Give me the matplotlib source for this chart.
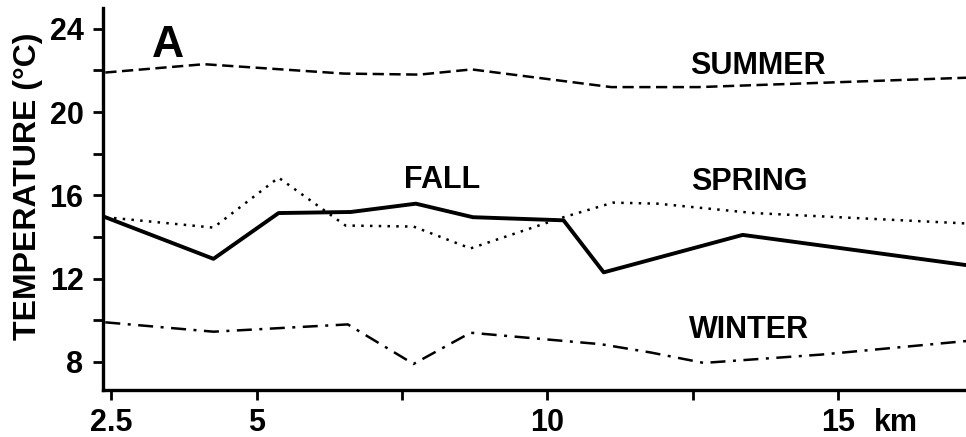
import matplotlib.pyplot as plt
from matplotlib.ticker import MultipleLocator

# temperature along the transect (km from origin, deg C)
summer_km = [2.4, 4.1, 6.5, 7.8, 8.7, 11.1, 12.6, 17.2]
summer_t = [21.9, 22.3, 21.85, 21.8, 22.05, 21.2, 21.2, 21.65]

spring_km = [2.4, 4.26, 5.38, 6.53, 7.7, 8.68, 10.28, 11.13, 11.9, 13.55, 17.2]
spring_t = [14.95, 14.45, 16.85, 14.55, 14.5, 13.45, 14.95, 15.65, 15.6, 15.15, 14.65]

fall_km = [2.4, 4.26, 5.38, 6.62, 7.74, 8.72, 10.28, 10.97, 13.36, 17.2]
fall_t = [14.95, 12.95, 15.15, 15.2, 15.6, 14.95, 14.8, 12.3, 14.1, 12.65]

winter_km = [2.4, 4.26, 6.57, 7.7, 8.68, 10.92, 11.78, 12.69, 14.71, 17.2]
winter_t = [9.9, 9.45, 9.8, 7.9, 9.4, 8.85, 8.45, 7.95, 8.35, 9.0]

x_ticks = [2.5, 5, 7.5, 10, 12.5, 15]
x_ticklabels = ["2.5", "5", "", "10", "", "15"]

plt.rcParams["font.family"] = ["Liberation Sans", "DejaVu Sans"]
plt.rcParams["font.weight"] = "bold"

fig = plt.figure(figsize=(9.66, 4.37), dpi=100)
ax = fig.add_axes([0.1066, 0.1076, 0.8934, 0.8741])

ax.plot(summer_km, summer_t, color="black", lw=1.8, dashes=(4.5, 2.2))
ax.plot(spring_km, spring_t, color="black", lw=1.8, dashes=(1, 2.5))
ax.plot(fall_km, fall_t, color="black", lw=2.8)
ax.plot(winter_km, winter_t, color="black", lw=1.8, dashes=(6, 3, 1.2, 3))

ax.set_xlim(2.36, 17.2)
ax.set_ylim(6.65, 25)

ax.set_xticks(x_ticks)
ax.set_xticklabels(x_ticklabels, fontsize=22, fontweight="bold")
ax.set_yticks([8, 12, 16, 20, 24])
ax.yaxis.set_minor_locator(MultipleLocator(2))
ax.tick_params(axis="y", labelsize=22, width=2, length=7, pad=7)
ax.tick_params(axis="y", which="minor", width=2, length=7)
ax.tick_params(axis="x", width=2, length=7, pad=6)
for lbl in ax.get_yticklabels():
    lbl.set_fontweight("bold")

for side in ["top", "right"]:
    ax.spines[side].set_visible(False)
for side in ["left", "bottom"]:
    ax.spines[side].set_linewidth(2.4)

# unit written next to the last tick label
ax.annotate("km", xy=(16.0, 0), xycoords=("data", "axes fraction"),
            xytext=(0, -13), textcoords="offset points",
            fontsize=22, fontweight="bold", ha="center", va="top")

fig.text(28 / 966, 1 - 186 / 437, "TEMPERATURE (\u00b0C)", rotation=90,
         fontsize=23, ha="center", va="center")

ax.text(3.47, 23.2, "A", fontsize=32, fontweight="bold", ha="center", va="center")
ax.text(13.62, 22.23, "SUMMER", fontsize=22, fontweight="bold", ha="center", va="center")
ax.text(13.47, 16.63, "SPRING", fontsize=22, fontweight="bold", ha="center", va="center")
ax.text(8.2, 16.73, "FALL", fontsize=22, fontweight="bold", ha="center", va="center")
ax.text(13.47, 9.55, "WINTER", fontsize=22, fontweight="bold", ha="center", va="center")

fig.savefig("out.png", dpi=100)
